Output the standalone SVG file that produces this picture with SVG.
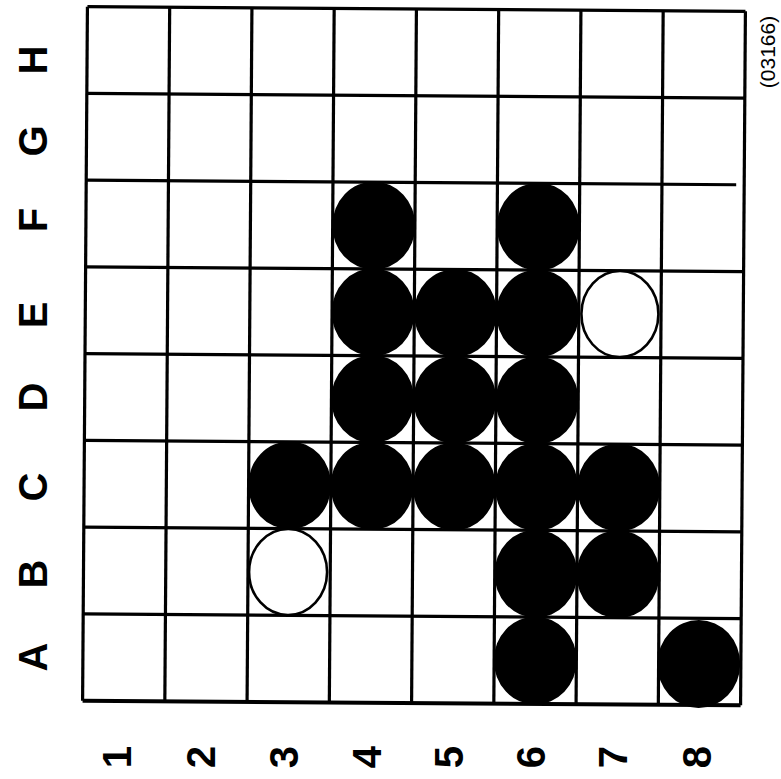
<svg xmlns="http://www.w3.org/2000/svg" width="781" height="779" viewBox="0 0 781 779">
<style>
.lbl{font-family:"Liberation Sans",Arial,sans-serif;font-weight:bold;font-size:40px;fill:#000;text-anchor:middle}
.code{font-family:"Liberation Sans",Arial,sans-serif;font-size:21px;fill:#000;text-anchor:middle}
.grid line{stroke:#000;stroke-width:3.2}
.blk{fill:#000}
.wht{fill:#fff;stroke:#000;stroke-width:2.6}
</style>
<rect width="781" height="779" fill="#fff"/>
<g id="board" transform="rotate(0.4 414 356)">
<g id="connectors" class="grid">
<line x1="85" y1="9" x2="85" y2="703"/>
<line x1="167.25" y1="9" x2="167.25" y2="703"/>
<line x1="249.5" y1="9" x2="249.5" y2="703"/>
<line x1="331.75" y1="9" x2="331.75" y2="703"/>
<line x1="414" y1="9" x2="414" y2="703"/>
<line x1="496.25" y1="9" x2="496.25" y2="703"/>
<line x1="578.5" y1="9" x2="578.5" y2="703"/>
<line x1="660.75" y1="9" x2="660.75" y2="703"/>
<line x1="743" y1="9" x2="743" y2="703"/>
<line x1="85" y1="9" x2="743" y2="9"/>
<line x1="85" y1="95.75" x2="743" y2="95.75"/>
<line x1="85" y1="182.5" x2="735" y2="182.5"/>
<line x1="85" y1="269.25" x2="743" y2="269.25"/>
<line x1="85" y1="356" x2="743" y2="356"/>
<line x1="85" y1="442.75" x2="743" y2="442.75"/>
<line x1="85" y1="529.5" x2="743" y2="529.5"/>
<line x1="85" y1="616.25" x2="743" y2="616.25"/>
<line x1="85" y1="703" x2="743" y2="703" style="stroke-width:4"/>
</g>
<g id="F4"><ellipse class="blk" cx="372.9" cy="225.9" rx="41.5" ry="44"/></g>
<g id="F6"><ellipse class="blk" cx="537.4" cy="225.9" rx="41.5" ry="44"/></g>
<g id="E4"><ellipse class="blk" cx="372.9" cy="312.6" rx="41.5" ry="44"/></g>
<g id="E5"><ellipse class="blk" cx="455.1" cy="312.6" rx="41.5" ry="44"/></g>
<g id="E6"><ellipse class="blk" cx="537.4" cy="312.6" rx="41.5" ry="44"/></g>
<g id="E7"><ellipse class="wht" cx="619.6" cy="312.6" rx="38.5" ry="43"/></g>
<g id="D4"><ellipse class="blk" cx="372.9" cy="399.4" rx="41.5" ry="44"/></g>
<g id="D5"><ellipse class="blk" cx="455.1" cy="399.4" rx="41.5" ry="44"/></g>
<g id="D6"><ellipse class="blk" cx="537.4" cy="399.4" rx="41.5" ry="44"/></g>
<g id="C3"><ellipse class="blk" cx="290.6" cy="486.1" rx="41.5" ry="44"/></g>
<g id="C4"><ellipse class="blk" cx="372.9" cy="486.1" rx="41.5" ry="44"/></g>
<g id="C5"><ellipse class="blk" cx="455.1" cy="486.1" rx="41.5" ry="44"/></g>
<g id="C6"><ellipse class="blk" cx="537.4" cy="486.1" rx="41.5" ry="44"/></g>
<g id="C7"><ellipse class="blk" cx="619.6" cy="486.1" rx="41.5" ry="44"/></g>
<g id="B3"><ellipse class="wht" cx="289.6" cy="572.9" rx="39" ry="43"/></g>
<g id="B6"><ellipse class="blk" cx="537.4" cy="572.9" rx="41.5" ry="44"/></g>
<g id="B7"><ellipse class="blk" cx="619.6" cy="572.9" rx="41.5" ry="44"/></g>
<g id="A6"><ellipse class="blk" cx="537.4" cy="659.6" rx="41.5" ry="44"/></g>
<g id="A8"><ellipse class="blk" cx="700.9" cy="662" rx="41.5" ry="44"/></g>
</g>
<g id="row-labels">
<text class="lbl" transform="translate(33 60) rotate(-90)" y="14">H</text>
<text class="lbl" transform="translate(33 141) rotate(-90)" y="14">G</text>
<text class="lbl" transform="translate(33 220) rotate(-90)" y="14">F</text>
<text class="lbl" transform="translate(33 315) rotate(-90)" y="14">E</text>
<text class="lbl" transform="translate(33 397) rotate(-90)" y="14">D</text>
<text class="lbl" transform="translate(33 487) rotate(-90)" y="14">C</text>
<text class="lbl" transform="translate(33 574) rotate(-90)" y="14">B</text>
<text class="lbl" transform="translate(33 657) rotate(-90)" y="14">A</text>
</g>
<g id="col-labels">
<text class="lbl" transform="translate(117 757) rotate(-90)" y="14">1</text>
<text class="lbl" transform="translate(201 757) rotate(-90)" y="14">2</text>
<text class="lbl" transform="translate(284 757) rotate(-90)" y="14">3</text>
<text class="lbl" transform="translate(367 757) rotate(-90)" y="14">4</text>
<text class="lbl" transform="translate(449 757) rotate(-90)" y="14">5</text>
<text class="lbl" transform="translate(531 757) rotate(-90)" y="14">6</text>
<text class="lbl" transform="translate(613 757) rotate(-90)" y="14">7</text>
<text class="lbl" transform="translate(697 757) rotate(-90)" y="14">8</text>
</g>
<g id="code">
<text class="code" transform="translate(767 52) rotate(-90)" y="7.5">(03166)</text>
</g>
</svg>
